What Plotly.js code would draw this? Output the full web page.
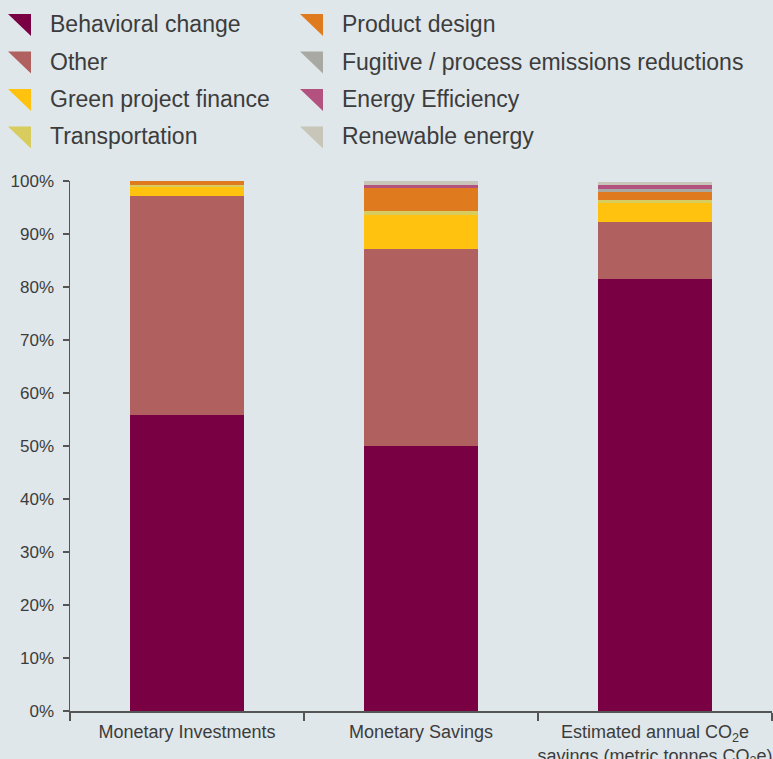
<!DOCTYPE html>
<html><head><meta charset="utf-8">
<script src="https://cdn.plot.ly/plotly-3.0.1.min.js"></script>
<style>html,body{margin:0;padding:0;background:#dfe7ea;}#chart{width:773px;height:759px;}</style>
</head><body><div id="chart"></div>
<script>
const categories = ["Monetary Investments", "Monetary Savings", "Estimated annual CO<sub>2</sub>e<br>savings (metric tonnes CO<sub>2</sub>e)"];
const seriesNames = ["Behavioral change", "Other", "Green project finance", "Transportation", "Product design", "Fugitive / process emissions reductions", "Energy Efficiency", "Renewable energy"];
const behavioral = [55.8, 50.0, 81.5];
const other = [41.4, 37.2, 10.7];
const greenFinance = [1.6, 6.4, 3.6];
const transportation = [0.5, 0.75, 0.6];
const productDesign = [0.7, 4.4, 1.5];
const fugitive = [0, 0, 0.55];
const energyEfficiency = [0, 0.5, 0.85];
const renewable = [0, 0.75, 0.6];
const colors = ["#7a0044", "#b0605f", "#ffc20e", "#d8cc5e", "#e07a1e", "#a7a9a2", "#b3527e", "#c8c6b9"];
const yTickVals = [0,10,20,30,40,50,60,70,80,90,100];
const yTickText = yTickVals.map(v => v + "%");

const values = [behavioral, other, greenFinance, transportation, productDesign, fugitive, energyEfficiency, renewable];
const traces = values.map((v, i) => ({
  type: "bar", x: categories, y: v, name: seriesNames[i],
  marker: {color: colors[i], line: {width: 0}}, showlegend: false, hoverinfo: "name+y"
}));

// legend drawn as triangles + text (pixel layout helper)
const L = 70, R = 1, T = 181, B = 48, W = 773, H = 759;
const pw = W - L - R, ph = H - T - B;
const px = x => (x - L) / pw, py = y => (H - B - y) / ph;
const shapes = [], annotations = [];
const rowsY = [25, 62.5, 100, 137.5];
const colX = [8, 300];
const legendOrder = [[0,1,2,3],[4,5,6,7]];
legendOrder.forEach((col, c) => col.forEach((si, r) => {
  const x0 = colX[c], yc = rowsY[r];
  const x1 = x0 + 23, y0 = yc - 11, y1 = yc + 11;
  shapes.push({type: "path", xref: "paper", yref: "paper",
    path: `M ${px(x0)} ${py(y0)} L ${px(x1)} ${py(y0)} L ${px(x1)} ${py(y1)} Z`,
    fillcolor: colors[si], line: {width: 0}});
  annotations.push({xref: "paper", yref: "paper", x: px(x0 + 40), y: py(yc - 1), xanchor: "left", yanchor: "middle",
    text: seriesNames[si], showarrow: false, font: {family: "Liberation Sans, Arial, sans-serif", size: 23, color: "#3c3c3c"}});
}));

const layout = {
  width: W, height: H, barmode: "stack", bargap: 0.513,
  paper_bgcolor: "#dfe7ea", plot_bgcolor: "#dfe7ea",
  margin: {l: L, r: R, t: T, b: B},
  font: {family: "Liberation Sans, Arial, sans-serif", size: 18, color: "#3c3c3c"},
  showlegend: false,
  xaxis: {type: "category", showline: true, linecolor: "#555", linewidth: 1.5, ticks: "outside", tickson: "boundaries",
          ticklen: 8, tickcolor: "#555", tickwidth: 1.2, showgrid: false, zeroline: false, fixedrange: true,
          tickangle: 0, automargin: false,
          tickfont: {size: 18, color: "#3c3c3c"}, ticklabelstandoff: 4},
  yaxis: {range: [0, 100], tickvals: yTickVals, ticktext: yTickText, showline: true, linecolor: "#555", linewidth: 1.5,
          ticks: "outside", ticklen: 6, tickcolor: "#555", tickwidth: 1.2, showgrid: false, zeroline: false,
          tickfont: {size: 17, color: "#3c3c3c"}, ticklabelstandoff: 5},
  shapes: shapes, annotations: annotations
};
Plotly.newPlot("chart", traces, layout, {displayModeBar: false, staticPlot: true});
</script></body></html>
